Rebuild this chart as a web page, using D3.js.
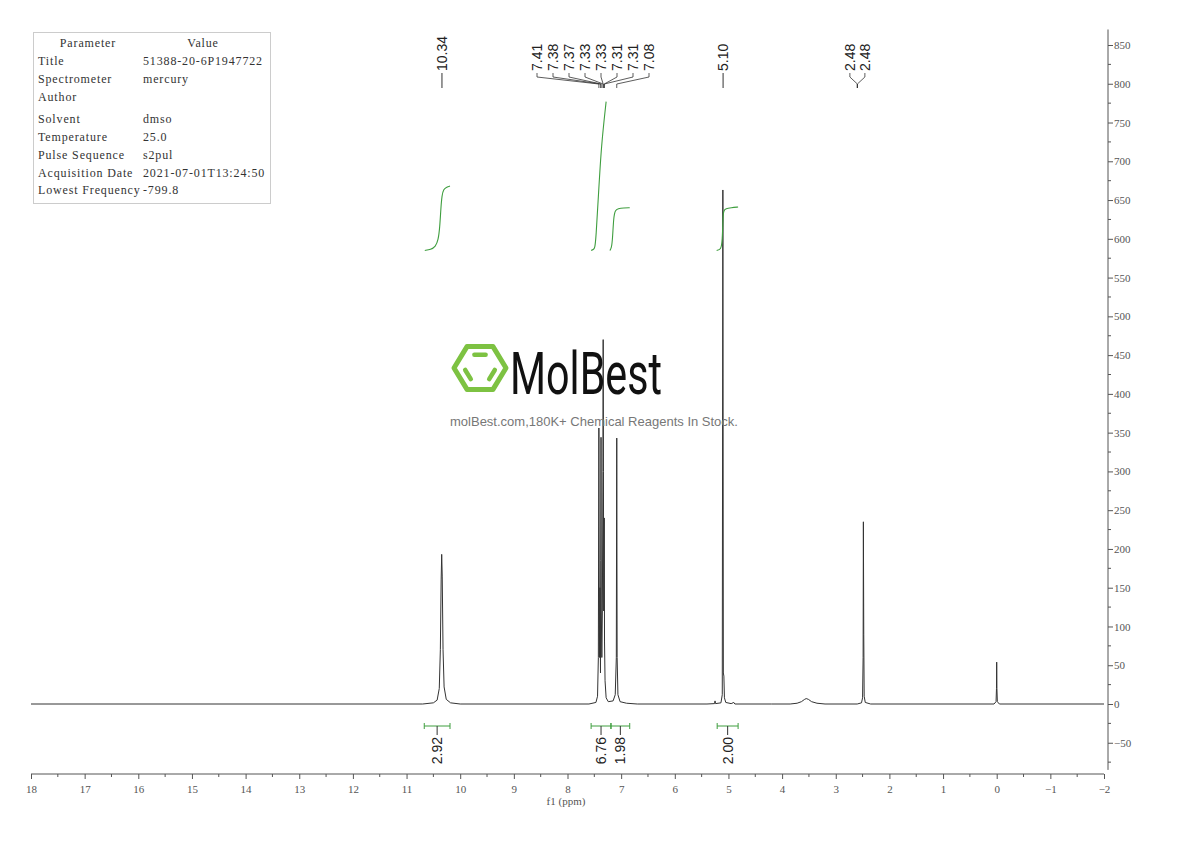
<!DOCTYPE html>
<html>
<head>
<meta charset="UTF-8">
<title>1H NMR</title>
<script src="https://d3js.org/d3.v7.min.js"></script>
<style>
    body { margin: 0; background: #fff; }
    svg { display: block; }
    .axis text { font-family: "Liberation Serif", serif; font-size: 11px; fill: #555; }
    .axis path, .axis line { stroke: #555; }
    .peaklabel { font-family: "Liberation Sans", Arial, sans-serif; font-size: 14px; fill: #222; }
    .param { font-family: "Liberation Serif", serif; font-size: 12px; letter-spacing: 0.85px; fill: #333; }
</style>
</head>
<body>
<svg id="chart" width="1190" height="841"></svg>
<script>
// spectrum as [ppm, intensity] points
const spectrum = [
    [18, 0], [10.7, 0], [10.5, 1.5], [10.43, 5], [10.39, 20], [10.37, 70], [10.355, 160], [10.345, 193],
    [10.335, 165], [10.32, 70], [10.30, 22], [10.26, 6], [10.18, 1.5], [10.0, 0],
    [7.6, 0], [7.47, 2], [7.44, 10], [7.425, 60], [7.415, 356], [7.405, 60], [7.395, 150], [7.385, 40],
    [7.38, 185], [7.375, 344], [7.37, 120], [7.36, 60], [7.35, 120], [7.34, 300], [7.335, 470],
    [7.33, 300], [7.325, 120], [7.32, 170], [7.315, 240], [7.31, 80], [7.30, 30], [7.28, 8],
    [7.24, 3], [7.15, 4], [7.11, 12], [7.09, 60], [7.082, 343], [7.075, 60], [7.06, 12], [7.02, 3],
    [6.9, 1], [6.7, 0],
    [5.4, 0], [5.26, 0.5], [5.25, 4], [5.24, 0.5], [5.14, 1.5], [5.115, 12], [5.104, 663], [5.095, 40],
    [5.085, 36], [5.075, 8], [5.05, 2], [4.95, 0.5], [4.9, 2], [4.88, 0], [4.2, 0],
    [3.85, 0], [3.72, 1], [3.64, 3], [3.58, 6], [3.55, 7], [3.51, 6], [3.45, 3], [3.35, 1], [3.2, 0],
    [2.6, 0], [2.52, 1.5], [2.50, 8], [2.49, 60], [2.485, 235], [2.478, 90], [2.47, 10], [2.45, 2], [2.35, 0],
    [0.05, 0], [0.012, 3], [0.004, 20], [0.0, 54], [-0.004, 20], [-0.012, 3], [-0.05, 0], [-2, 0]
];

// peak picking labels
const singleLabels = [10.34, 5.10];
const clusterLabels = [7.41, 7.38, 7.37, 7.33, 7.33, 7.31, 7.31, 7.08];
const clusterPeaks = [7.415, 7.38, 7.375, 7.335, 7.335, 7.315, 7.315, 7.082];
const pairLabels = [2.48, 2.48];
const pairPeaks = [2.485, 2.485];

// integrals: region [from, to] in ppm and value
const integralFrom = [10.67, 7.56, 7.19, 5.21];
const integralTo = [10.19, 7.19, 6.84, 4.82];
const integralValues = ["2.92", "6.76", "1.98", "2.00"];
// integral curves as [ppm, level] points
const integralCurves = [
    [[10.66, 585], [10.55, 586], [10.46, 590], [10.41, 598], [10.38, 615], [10.36, 640], [10.34, 656], [10.31, 664], [10.25, 667], [10.19, 668]],
    [[7.56, 585], [7.52, 586], [7.49, 588], [7.47, 600], [7.42, 660], [7.37, 720], [7.28, 777]],
    [[7.21, 585], [7.18, 588], [7.16, 600], [7.14, 628], [7.11, 637], [7.06, 639], [6.95, 640], [6.84, 640]],
    [[5.22, 585], [5.14, 586], [5.115, 596], [5.10, 630], [5.09, 636], [5.05, 639], [4.95, 640], [4.82, 641]]
];

const xTicks = d3.range(18, -2.5, -1);
const yTicks = d3.range(-50, 851, 50);

const params = [
    ["Title", "51388-20-6P1947722"],
    ["Spectrometer", "mercury"],
    ["Author", ""],
    ["Solvent", "dmso"],
    ["Temperature", "25.0"],
    ["Pulse Sequence", "s2pul"],
    ["Acquisition Date", "2021-07-01T13:24:50"],
    ["Lowest Frequency", "-799.8"]
];

const svg = d3.select("#chart");
const green = "#3f9e3f";

const x = d3.scaleLinear().domain([18, -2]).range([31, 1104]);
const y = d3.scaleLinear().domain([0, 850]).range([704, 45]);

// spectrum
const line = d3.line().x(d => x(d[0])).y(d => y(d[1]));
svg.append("path")
    .datum(spectrum)
    .attr("d", line)
    .attr("fill", "none")
    .attr("stroke", "#333")
    .attr("stroke-width", 1);

// integral curves
const icurve = d3.line().x(d => x(d[0])).y(d => y(d[1])).curve(d3.curveBasis);
svg.append("g").selectAll("path")
    .data(integralCurves)
    .join("path")
    .attr("d", icurve)
    .attr("fill", "none")
    .attr("stroke", green)
    .attr("stroke-width", 1.1);

// integral brackets at the bottom
const ig = svg.append("g");
integralValues.forEach((v, i) => {
    const x0 = x(integralFrom[i]), x1 = x(integralTo[i]);
    const xc = (x0 + x1) / 2;
    ig.append("line").attr("x1", x0).attr("x2", x1).attr("y1", 726).attr("y2", 726).attr("stroke", green);
    ig.append("line").attr("x1", x0).attr("x2", x0).attr("y1", 723).attr("y2", 729).attr("stroke", green);
    ig.append("line").attr("x1", x1).attr("x2", x1).attr("y1", 723).attr("y2", 729).attr("stroke", green);
    ig.append("line").attr("x1", xc).attr("x2", xc).attr("y1", 726).attr("y2", 735).attr("stroke", "#333");
    ig.append("text")
        .attr("class", "peaklabel")
        .attr("transform", `translate(${xc},737) rotate(-90)`)
        .attr("text-anchor", "end")
        .attr("dy", "0.35em")
        .text(v);
});

// peak labels on top
const pl = svg.append("g");
function label(xp, txt) {
    pl.append("text")
        .attr("class", "peaklabel")
        .attr("transform", `translate(${xp},71) rotate(-90)`)
        .attr("dy", "0.35em")
        .text(txt.toFixed(2));
}
singleLabels.forEach(p => {
    label(x(p), p);
    pl.append("line").attr("x1", x(p)).attr("x2", x(p)).attr("y1", 73).attr("y2", 88).attr("stroke", "#333");
});
function group(labels, peaks, center, step, joinX) {
    const n = labels.length;
    labels.forEach((p, i) => {
        const lx = center + (i - (n - 1) / 2) * step;
        const px = joinX !== undefined ? joinX : x(peaks[i]);
        label(lx, p);
        pl.append("path")
            .attr("d", `M${lx},73 L${lx},77 L${px},84 L${px},88`)
            .attr("fill", "none")
            .attr("stroke", "#333")
            .attr("stroke-width", 0.8);
    });
}
group(clusterLabels, clusterPeaks, 593, 16);
group(pairLabels, pairPeaks, x(2.485) - 6, 15, x(2.485) - 6);
pl.append("line").attr("x1", x(2.485) - 6).attr("x2", x(2.485) - 6).attr("y1", 84).attr("y2", 88).attr("stroke", "#333");

// x axis
const xAxis = svg.append("g").attr("class", "axis").attr("transform", "translate(0,774)");
xAxis.call(d3.axisBottom(x).tickValues(xTicks).tickSize(5).tickPadding(6).tickFormat(d => d < 0 ? "\u2212" + (-d) : d));
xAxis.append("g").selectAll("line")
    .data(d3.range(17.5, -2, -1))
    .join("line")
    .attr("x1", d => x(d)).attr("x2", d => x(d))
    .attr("y1", 0).attr("y2", 3)
    .attr("stroke", "#555");
xAxis.select(".domain").attr("d", `M${x(18)},0H${x(-2)}`);
svg.append("text")
    .attr("x", 566).attr("y", 805)
    .attr("text-anchor", "middle")
    .attr("font-family", "Liberation Serif, serif")
    .attr("font-size", 11)
    .attr("fill", "#555")
    .text("f1 (ppm)");

// y axis
const yAxis = svg.append("g").attr("class", "axis").attr("transform", "translate(1108,0)");
yAxis.call(d3.axisRight(y).tickValues(yTicks).tickSize(5).tickPadding(1).tickFormat(d => d < 0 ? "\u2212" + (-d) : d));
yAxis.select(".domain").attr("d", `M0,${y(-85)}V${y(870)}`);
yAxis.append("g").selectAll("line")
    .data(d3.range(-75, 870, 50))
    .join("line")
    .attr("x1", 0).attr("x2", 3)
    .attr("y1", d => y(d)).attr("y2", d => y(d))
    .attr("stroke", "#555");

// parameter table
const tg = svg.append("g");
tg.append("rect").attr("x", 33.5).attr("y", 32.5).attr("width", 237).attr("height", 171)
    .attr("fill", "#fff").attr("stroke", "#ccc");
tg.append("text").attr("class", "param").attr("x", 88).attr("y", 47).attr("text-anchor", "middle").text("Parameter");
tg.append("text").attr("class", "param").attr("x", 203).attr("y", 47).attr("text-anchor", "middle").text("Value");
const rowY = [65, 83, 101, 123, 141, 159, 177, 194];
params.forEach((r, i) => {
    tg.append("text").attr("class", "param").attr("x", 38).attr("y", rowY[i]).text(r[0]);
    tg.append("text").attr("class", "param").attr("x", 143).attr("y", rowY[i]).text(r[1]);
});

// watermark logo
const logo = svg.append("g");
const hc = [480, 368], hr = 26;
const hex = d3.range(6).map(k => [hc[0] + hr * Math.cos(k * Math.PI / 3), hc[1] + hr * 0.95 * Math.sin(k * Math.PI / 3)]);
logo.append("path")
    .attr("d", "M" + hex.join("L") + "Z")
    .attr("fill", "none").attr("stroke", "#7dc242").attr("stroke-width", 5).attr("stroke-linejoin", "round");
const ir = 16;
const inner = d3.range(6).map(k => [hc[0] + ir * Math.cos(k * Math.PI / 3), hc[1] + ir * 0.95 * Math.sin(k * Math.PI / 3)]);
[[4, 5], [0, 1], [2, 3]].forEach(([a, b]) => {
    const p = inner[a], q = inner[b];
    const sx = p[0] + (q[0] - p[0]) * 0.15, sy = p[1] + (q[1] - p[1]) * 0.15;
    const ex = p[0] + (q[0] - p[0]) * 0.85, ey = p[1] + (q[1] - p[1]) * 0.85;
    logo.append("line").attr("x1", sx).attr("y1", sy).attr("x2", ex).attr("y2", ey)
        .attr("stroke", "#7dc242").attr("stroke-width", 4.5).attr("stroke-linecap", "round");
});
logo.append("text")
    .attr("transform", "translate(510,394) scale(0.7,1)")
    .attr("font-family", "Roboto, sans-serif")
    .attr("font-size", 59)
    .attr("fill", "#111")
    .text("MolBest");
logo.append("text")
    .attr("x", 594).attr("y", 426)
    .attr("text-anchor", "middle")
    .attr("font-family", "Liberation Sans, Arial, sans-serif")
    .attr("font-size", 13)
    .attr("fill", "#777")
    .text("molBest.com,180K+ Chemical Reagents In Stock.");
</script>
</body>
</html>
